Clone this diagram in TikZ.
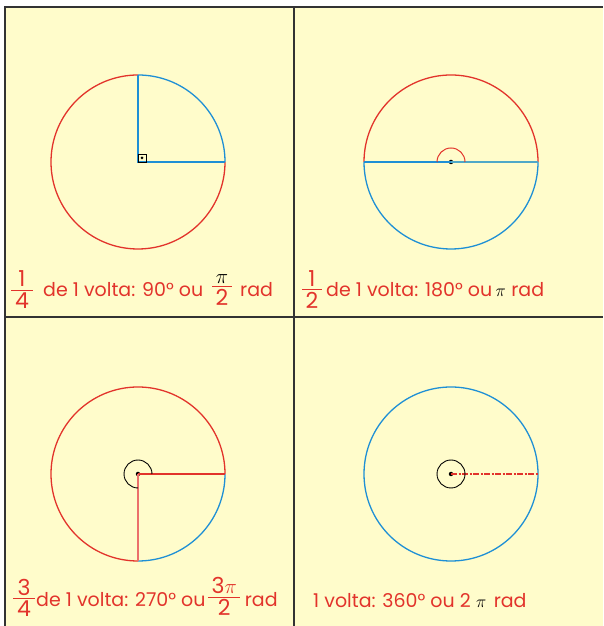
\documentclass[tikz,border=0pt]{standalone}
\usepackage{fontspec}
\usetikzlibrary{positioning}
\setmainfont{Poppins}
\definecolor{fundo}{HTML}{FFFCCB}
\definecolor{vermelho}{HTML}{E2332B}
\definecolor{azul}{HTML}{1E8FD5}
\definecolor{azulclaro}{HTML}{4FA8C8}
\setlength{\arrayrulewidth}{1pt}
\newcommand{\fracao}[2]{\renewcommand{\arraystretch}{0.85}\begin{tabular}{@{\,}c@{\,}}#1\\[-4pt]\hline\noalign{\vskip 2pt}#2\end{tabular}}
\begin{document}
\begin{tikzpicture}[
        x=1pt, y=1pt,
        % Configuración de las circunferencias y radios
        circulo/.style={line width=1.3pt},
        raio/.style={line width=2pt},
        punto/.style={circle, fill=black, inner sep=0pt, minimum size=4.5pt},
        % Configuración de los textos
        texto/.style={anchor=base west, inner sep=0pt, text=vermelho, font=\fontsize{19}{23}\selectfont},
        fraccion/.style={inner sep=0pt, text=vermelho, font=\fontsize{22}{26}\selectfont},
        marco/.style={line width=2.4pt, black!80}
    ]
        \useasboundingbox (0,0) rectangle (603,626);
        \fill[fundo] (5,0) rectangle (603,619);

        % Centros de las cuatro circunferencias
        \coordinate (c1) at (138,464);
        \node[punto] (c2) at (451,464) {};
        \node[punto] (c3) at (138,152) {};
        \node[punto] (c4) at (451,152) {};

        % 1/4 de volta
        \draw[circulo, vermelho] (c1) ++(0,87) arc[start angle=90, end angle=360, radius=87];
        \draw[circulo, azul] (c1) ++(87,0) arc[start angle=0, end angle=90, radius=87];
        \path (c1) ++(0,87) coordinate (c1n) (c1) ++(87,0) coordinate (c1e);
        \draw[raio, azul] (c1n) -- (c1) -- (c1e);
        \draw[black, line width=0.9pt] (c1) rectangle ++(8,8);
        \node[punto, minimum size=3pt] (r1) at ([shift={(4,4)}]c1) {};

        % 1/2 de volta
        \draw[circulo, vermelho] (c2.center) ++(87,0) arc[start angle=0, end angle=180, radius=87];
        \draw[circulo, azul] (c2.center) ++(-87,0) arc[start angle=180, end angle=360, radius=87];
        \path (c2.center) ++(-87,0) coordinate (c2w) (c2.center) ++(87,0) coordinate (c2e);
        \draw[raio, azul] (c2w) -- (c2.center);
        \draw[azulclaro, line width=1.2pt] (c2.center) -- (c2e);
        \draw[vermelho, line width=1pt] (c2.center) ++(14,0) arc[start angle=0, end angle=180, radius=14];

        % 3/4 de volta
        \draw[circulo, vermelho] (c3.center) ++(87,0) arc[start angle=0, end angle=270, radius=87];
        \draw[circulo, azul] (c3.center) ++(0,-87) arc[start angle=270, end angle=360, radius=87];
        \path (c3.center) ++(87,0) coordinate (c3e) (c3.center) ++(0,-87) coordinate (c3s);
        \draw[raio, vermelho] (c3.center) -- (c3e);
        \draw[vermelho!70, line width=1.3pt] (c3.center) -- (c3s);
        \draw[black, line width=0.9pt] (c3.center) ++(14,0) arc[start angle=0, end angle=270, radius=14];

        % 1 volta
        \draw[circulo, azul] (c4.center) circle[radius=87];
        \path (c4.center) ++(87,0) coordinate (c4e);
        \draw[vermelho, line width=1.6pt, dash pattern=on 6pt off 1.5pt on 2pt off 1.5pt] (c4.center) -- (c4e);
        \draw[black, line width=0.9pt] (c4.center) circle[radius=14];

        % Textos de cada cuadro
        \node[fraccion] (f1) at (22,333) {\fracao{1}{4}};
        \node[texto] (t1) at (43,329) {de 1 volta: 90° ou};
        \node[fraccion] (g1) at (222,336) {\fracao{\color{black}$\pi$}{2}};
        \node[texto] (u1) at (240,329) {rad};

        \node[fraccion] (f2) at (312,333) {\fracao{1}{2}};
        \node[texto] (t2) at (326,329) {de 1 volta: 180° ou};
        \node[texto, text=black, right=3pt of t2.base east, anchor=base west] (p2) {$\pi$};
        \node[texto, right=5pt of p2.base east, anchor=base west] (u2) {rad};

        \node[fraccion] (f3) at (24,25) {\fracao{3}{4}};
        \node[texto] (t3) at (36,19) {de 1 volta: 270° ou};
        \node[fraccion, right=2pt of t3.east] (g3) {\fracao{3$\pi$}{2}};
        \node[texto, right=4pt of g3.east, anchor=west] (u3) {rad};

        \node[texto] (t4) at (313,18) {1 volta: 360° ou 2};
        \node[texto, text=black, right=5pt of t4.base east, anchor=base west] (p4) {$\pi$};
        \node[texto, right=7pt of p4.base east, anchor=base west] (u4) {rad};

        % Marco
        \draw[marco] (5,0) -- (5,619) -- (603,619);
        \draw[marco] (294,0) -- (294,619);
        \draw[marco] (5,309) -- (603,309);
    \end{tikzpicture}
\end{document}
